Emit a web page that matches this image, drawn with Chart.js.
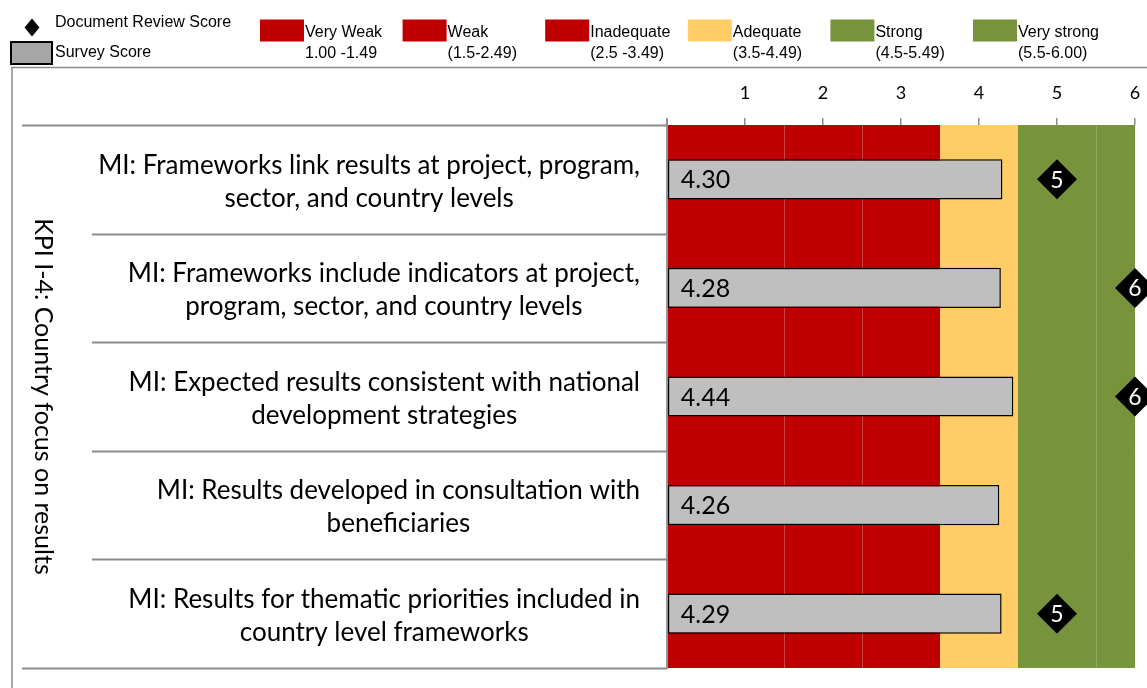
<!DOCTYPE html>
<html><head><meta charset="utf-8">
<script src="https://cdn.jsdelivr.net/npm/chart.js@4.4.1/dist/chart.umd.min.js"></script>
<style>html,body{margin:0;padding:0;background:#fff;} #wrap{width:1147px;height:688px;position:relative;}</style>
</head><body><div id="wrap"><canvas id="c"></canvas></div>
<script>
// ---- data ----
const categories = [
  ["MI: Frameworks link results at project, program,", "sector, and country levels"],
  ["MI: Frameworks include indicators at project,", "program, sector, and country levels"],
  ["MI: Expected results consistent with national", "development strategies"],
  ["MI: Results developed in consultation with", "beneficiaries"],
  ["MI: Results for thematic priorities included in", "country level frameworks"]
];
const groupLabel = "KPI I-4: Country focus on results";
const seriesNames = ["Document Review Score", "Survey Score"];
const surveyScores = [4.30, 4.28, 4.44, 4.26, 4.29];
const documentReviewScores = [5, 6, 6, null, 5];
const bandNames = ["Very Weak", "Weak", "Inadequate", "Adequate", "Strong", "Very strong"];
const bandRanges = ["1.00 -1.49", "(1.5-2.49)", "(2.5 -3.49)", "(3.5-4.49)", "(4.5-5.49)", "(5.5-6.00)"];
const bandSpans = [1.5, 1, 1, 1, 1, 0.5];
const axisMin = 0, axisMax = 6;

// ---- styles ----
const bandColors = ['#C00000', '#C00000', '#C00000', '#FFCC66', '#77933C', '#77933C'];
const bandEdgeColors = [null, '#CE4242', '#CE4242', null, null, '#90AA5E'];
const labelFont = 'Lato, "Open Sans", sans-serif';
const legendFont = '"Liberation Sans", Arial, sans-serif';

const catKeys = categories.map(c => c.join(' '));

const datasets = [
  {
    type: 'line', label: seriesNames[0], data: documentReviewScores, indexAxis: 'y',
    showLine: false, pointStyle: 'rectRot', pointRadius: 20, pointHoverRadius: 20,
    backgroundColor: '#000', borderColor: '#000', borderWidth: 0, clip: false, order: 0
  },
  {
    type: 'bar', label: seriesNames[1], data: surveyScores, backgroundColor: '#BFBFBF',
    borderColor: '#000', borderWidth: 1.5, borderSkipped: false, grouped: false,
    barPercentage: 0.37, categoryPercentage: 1, order: 1
  }
].concat(bandNames.map((n, i) => ({
  type: 'bar', label: n, data: categories.map(() => bandSpans[i]), stack: 'bands',
  backgroundColor: bandColors[i], borderColor: bandEdgeColors[i] || bandColors[i],
  borderWidth: { left: bandEdgeColors[i] ? 1 : 0, right: 0, top: 0, bottom: 0 },
  borderSkipped: false, grouped: false, barPercentage: 1.02, categoryPercentage: 1, order: 2
})));

const decor = {
  id: 'decor',
  beforeDraw(chart) {
    const ctx = chart.ctx;
    ctx.save();
    ctx.fillStyle = '#fff';
    ctx.fillRect(0, 0, chart.width, chart.height);
    // outer frame
    ctx.strokeStyle = '#8c8c8c';
    ctx.lineWidth = 1.5;
    ctx.strokeRect(12, 67.5, chart.width + 20, chart.height + 20);
    // legend: series
    ctx.fillStyle = '#000';
    ctx.beginPath();
    ctx.moveTo(32, 18.5); ctx.lineTo(39.5, 27.5); ctx.lineTo(32, 36.5); ctx.lineTo(24.5, 27.5);
    ctx.closePath(); ctx.fill();
    ctx.fillStyle = '#A6A6A6';
    ctx.fillRect(11, 42, 41, 22);
    ctx.strokeStyle = '#000'; ctx.lineWidth = 2;
    ctx.strokeRect(11, 42, 41, 22);
    ctx.fillStyle = '#000';
    ctx.font = '16px ' + legendFont;
    ctx.textBaseline = 'middle'; ctx.textAlign = 'left';
    ctx.fillText(seriesNames[0], 55, 23);
    ctx.fillText(seriesNames[1], 55, 53);
    // legend: bands
    bandNames.forEach((n, i) => {
      const bx = 260 + i * 142.6;
      ctx.fillStyle = bandColors[i];
      ctx.fillRect(bx, 19.5, 44, 22);
      ctx.fillStyle = '#000';
      ctx.fillText(n, bx + 45, 33);
      ctx.fillText(bandRanges[i], bx + 45, 53.5);
    });
    ctx.restore();
  },
  afterDatasetsDraw(chart) {
    const ctx = chart.ctx;
    ctx.save();
    // survey values
    const sMeta = chart.getDatasetMeta(1);
    ctx.font = '25px ' + labelFont;
    ctx.fillStyle = '#000';
    ctx.textAlign = 'left'; ctx.textBaseline = 'middle';
    sMeta.data.forEach((bar, i) => {
      ctx.fillText(surveyScores[i].toFixed(2), bar.base + 13, bar.y + 1);
    });
    // document review numbers
    const dMeta = chart.getDatasetMeta(0);
    ctx.font = '23px ' + labelFont;
    ctx.fillStyle = '#fff';
    ctx.textAlign = 'center';
    dMeta.data.forEach((pt, i) => {
      const v = documentReviewScores[i];
      if (v === null || pt.skip) return;
      ctx.fillText(String(v), pt.x, pt.y + 1);
    });
    ctx.restore();
  },
  afterDraw(chart) {
    const ctx = chart.ctx;
    const ys = chart.scales.y;
    const area = chart.chartArea;
    ctx.save();
    // row separators
    ctx.strokeStyle = '#8c8c8c';
    ctx.lineWidth = 1.8;
    for (let i = 0; i <= categories.length; i++) {
      const y = Math.round(ys.getPixelForValue(i - 0.5)) + 0.5;
      const x0 = (i === 0 || i === categories.length) ? 22 : 92;
      ctx.beginPath(); ctx.moveTo(x0, y); ctx.lineTo(area.left, y); ctx.stroke();
    }
    // value-axis base line
    ctx.beginPath(); ctx.moveTo(area.left, area.top - 6); ctx.lineTo(area.left, area.bottom + 1); ctx.stroke();
    // category labels
    ctx.fillStyle = '#000';
    ctx.font = '26px ' + labelFont;
    ctx.textAlign = 'center'; ctx.textBaseline = 'middle';
    const rightEdge = 640;
    categories.forEach((lines, i) => {
      const cy = ys.getPixelForValue(i) + 2.5;
      const maxW = Math.max(...lines.map(l => ctx.measureText(l).width));
      const cx = rightEdge - maxW / 2;
      const lh = 33;
      lines.forEach((l, k) => {
        ctx.fillText(l, cx, cy + (k - (lines.length - 1) / 2) * lh);
      });
    });
    // group label (rotated)
    ctx.font = '25px ' + labelFont;
    ctx.translate(43, (area.top + area.bottom) / 2);
    ctx.rotate(Math.PI / 2);
    ctx.fillText(groupLabel, 0, 0);
    ctx.restore();
  }
};

new Chart(document.getElementById('c'), {
  type: 'bar',
  data: { labels: catKeys, datasets },
  options: {
    indexAxis: 'y',
    responsive: true,
    maintainAspectRatio: false,
    animation: false,
    layout: { autoPadding: false, padding: { left: 667, right: 12, top: 0, bottom: 20 } },
    plugins: { legend: { display: false }, tooltip: { enabled: false } },
    scales: {
      y: { type: 'category', display: false, offset: true },
      x: {
        type: 'linear', position: 'top', min: axisMin, max: axisMax,
        ticks: {
          stepSize: 1, padding: 0, color: '#000',
          font: { family: labelFont, size: 18, lineHeight: 2.8 },
          callback: v => (v === 0 ? '' : String(v))
        },
        grid: { drawOnChartArea: false, drawTicks: true, tickLength: 7, color: '#8c8c8c', lineWidth: 1.5 },
        border: { display: false },
        afterFit: s => { s.height = 125; }
      }
    }
  },
  plugins: [decor]
});
</script>
</body></html>
